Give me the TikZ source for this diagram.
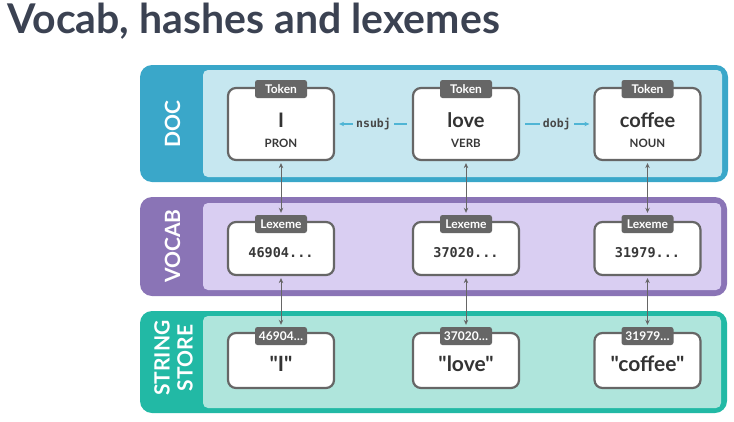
\documentclass[tikz,border=0pt]{standalone}
\usepackage{fontspec}
\setmainfont{Lato}
\newfontfamily\latobold{Lato}[UprightFont=* Bold]
\newfontfamily\latoq{Lato}[Ligatures=TeXOff, UprightFont=* Bold]
\setmonofont{DejaVu Sans Mono}
\usetikzlibrary{arrows.meta}
\definecolor{titlec}{HTML}{3B4252}
\definecolor{docband}{HTML}{3AA7C9}
\definecolor{docin}{HTML}{C6E7F0}
\definecolor{vocband}{HTML}{8A74B6}
\definecolor{vocin}{HTML}{D9CEF2}
\definecolor{strband}{HTML}{22B9A5}
\definecolor{strin}{HTML}{AFE5DC}
\definecolor{boxc}{HTML}{666666}
\definecolor{relc}{HTML}{4FB5D5}
\begin{document}
\begin{tikzpicture}[x=1pt,y=-1pt,
  band/.style={rounded corners=12pt},
  inner/.style={rounded corners=5pt},
  unit/.style={draw=boxc, line width=2.2pt, fill=white, rounded corners=8pt, minimum width=106pt, inner sep=0pt},
  tag/.style={fill=boxc, text=white, rounded corners=2.5pt, inner sep=0pt, minimum width=52pt, minimum height=18pt, font=\latobold\fontsize{12}{13}\selectfont},
  bandlabel/.style={text=white, rotate=90, align=center, font=\latobold\fontsize{21}{23}\selectfont},
  big/.style={font=\latobold\fontsize{20}{22}\selectfont, text=black!80},
  postag/.style={font=\latobold\fontsize{11.5}{12}\selectfont, text=black!78},
  hash/.style={font=\ttfamily\bfseries\fontsize{13.5}{14}\selectfont, text=black!78},
  link/.style={draw=boxc, line width=1pt, {Stealth[length=5pt,width=4.5pt]}-{Stealth[length=5pt,width=4.5pt]}, shorten <=2pt, shorten >=2pt},
  rel/.style={draw=relc, line width=1.3pt, -{Stealth[length=5pt,width=4.5pt]}, shorten <=5pt, shorten >=4pt},
  rellab/.style={fill=docin, inner sep=3pt, text=black!72, font=\ttfamily\bfseries\fontsize{11.5}{12}\selectfont}
]
\useasboundingbox (0,0) rectangle (734,421);
% title
\node[anchor=base west, inner sep=0pt, text=titlec, font=\latobold\fontsize{41}{43}\selectfont] (title) at (7,33) {Vocab, hashes and lexemes};

% panels
\fill[docband, band] (140,65) rectangle (728,182);
\fill[docin, inner] (203,70) rectangle (722,177);
\fill[vocband, band] (140,197) rectangle (727,296);
\fill[vocin, inner] (203,203) rectangle (721,290);
\fill[strband, band] (140,311) rectangle (727,413);
\fill[strin, inner] (203,316) rectangle (721,408);

\node[bandlabel] (ldoc) at (172.5,124.5) {DOC};
\node[bandlabel] (lvoc) at (172.5,246) {VOCAB};
\node[bandlabel] (lstr) at (173.5,358) {STRING\\STORE};

% tokens
\foreach \n/\x/\w/\p in {1/281/I/PRON, 2/466/love/VERB, 3/647.5/coffee/NOUN}{
  \node[unit, minimum height=72pt] (t\n) at (\x,124) {};
  \node[tag] (tt\n) at (\x,89) {Token};
  \node[big] (tw\n) at (\x,120) {\w};
  \node[postag] (tp\n) at (\x,143) {\p};
}
% lexemes
\foreach \n/\x/\h in {1/281/46904, 2/466/37020, 3/647.5/31979}{
  \node[unit, minimum height=53pt] (l\n) at (\x,248.5) {};
  \node[tag] (lt\n) at (\x,224) {Lexeme};
  \node[hash] (lh\n) at (\x,253) {\h...};
}
% strings
\foreach \n/\x/\s in {1/281/I, 2/466/love, 3/647.5/coffee}{
  \node[unit, minimum height=55pt] (s\n) at (\x,360.5) {};
  \node[big, font=\latoq\fontsize{21}{22}\selectfont] (sw\n) at (\x,364) {"\s"};
}
\node[tag] (st1) at (281,336) {46904…};
\node[tag] (st2) at (466,336) {37020…};
\node[tag] (st3) at (647.5,336) {31979…};

% vertical links
\foreach \n in {1,2,3}{
  \draw[link] (t\n.south) -- (lt\n.north);
  \draw[link] (l\n.south) -- (st\n.north);
}
% relations
\draw[rel] (t2.west) -- node[rellab] (rn) {nsubj} (t1.east);
\draw[rel] (t2.east) -- node[rellab] (rd) {dobj} (t3.west);
\end{tikzpicture}
\end{document}
